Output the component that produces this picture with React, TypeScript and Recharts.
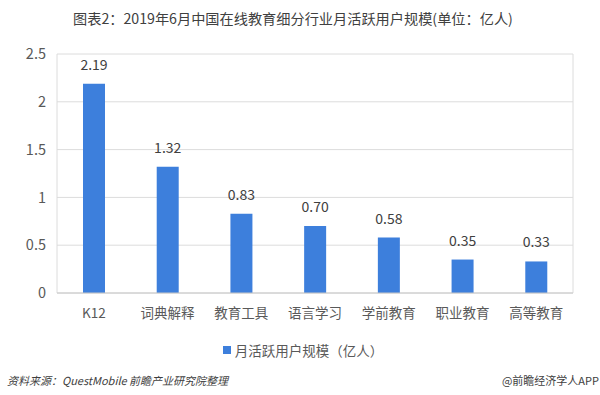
import React from "react";
import { BarChart, Bar, XAxis, YAxis, CartesianGrid, Legend, LabelList } from "recharts";

const categories = ["K12", "词典解释", "教育工具", "语言学习", "学前教育", "职业教育", "高等教育"];
const mau = [2.19, 1.32, 0.83, 0.7, 0.58, 0.35, 0.33];
const yTicks = [0, 0.5, 1, 1.5, 2, 2.5];
const seriesName = "月活跃用户规模（亿人）";
const title = "图表2：2019年6月中国在线教育细分行业月活跃用户规模(单位：亿人)";
const sourceText = "资料来源：QuestMobile 前瞻产业研究院整理";
const brandText = "@前瞻经济学人APP";

const data = categories.map((c, i) => ({ name: c, value: mau[i] }));
const FONT = '"Noto Sans CJK SC", "Noto Sans", sans-serif';
const BLUE = "#3d7fdc";

const LegendContent = () => (
  <div style={{ display: "flex", justifyContent: "center", alignItems: "center", fontFamily: FONT, fontSize: 13.5, color: "#595959", height: 22, paddingLeft: 33 }}>
    <span style={{ display: "inline-block", width: 8, height: 8, background: BLUE, marginRight: 4 }} />
    <span>{seriesName}</span>
  </div>
);

export default function App() {
  return (
    <div style={{ position: "absolute", left: 0, top: 0, width: 600, height: 395, background: "#fff", fontFamily: FONT }}>
      <div style={{ position: "absolute", top: 8, left: 73, whiteSpace: "nowrap", fontSize: 14.2, color: "#404040" }}>{title}</div>
      <BarChart width={600} height={395} data={data} margin={{ top: 54, right: 27, left: 0, bottom: 34 }}>
        <CartesianGrid vertical={true} verticalPoints={[57, 573]} stroke="#dcdcdc" />
        <XAxis dataKey="name" height={46} tickLine={false} tickSize={0} tickMargin={15} axisLine={{ stroke: "#c8c8c8" }} tick={{ fill: "#595959", fontSize: 13.5, fontFamily: FONT }} interval={0} />
        <YAxis width={57} domain={[0, 2.5]} ticks={yTicks} tickLine={false} axisLine={false} tickSize={0} tickMargin={11} tick={{ fill: "#595959", fontSize: 14.5, fontFamily: FONT }} />
        <Legend verticalAlign="bottom" height={22} content={<LegendContent />} />
        <Bar dataKey="value" name={seriesName} fill={BLUE} barSize={22} isAnimationActive={false}>
          <LabelList dataKey="value" position="top" offset={14} formatter={(v: number) => v.toFixed(2)} style={{ fill: "#404040", fontSize: 14, fontFamily: FONT }} />
        </Bar>
      </BarChart>
      <div style={{ position: "absolute", top: 372, left: 7, fontSize: 11, fontStyle: "italic", color: "#404040", whiteSpace: "nowrap" }}>{sourceText}</div>
      <div style={{ position: "absolute", top: 372, right: 1, fontSize: 11, color: "#404040", whiteSpace: "nowrap" }}>{brandText}</div>
    </div>
  );
}
